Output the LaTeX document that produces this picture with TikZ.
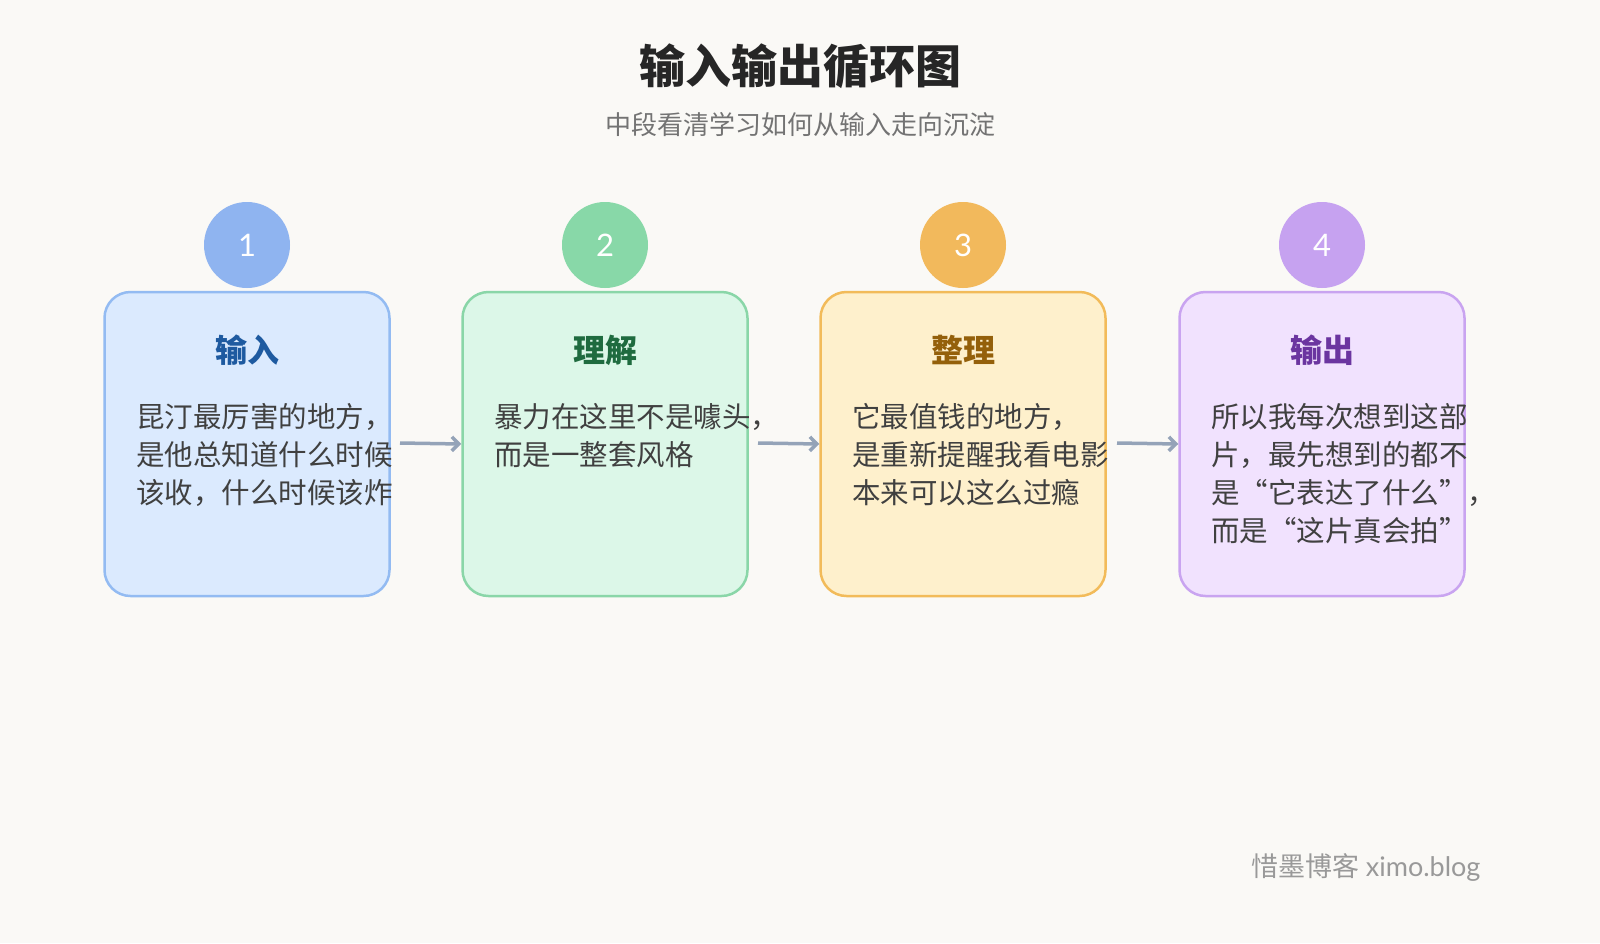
\documentclass[tikz,border=0pt]{standalone}
\usepackage{fontspec}
\usetikzlibrary{arrows.meta}
\setmainfont{Noto Sans CJK SC}
\newfontfamily\latinf{Lato}
\definecolor{bg}{HTML}{FAF9F6}
\definecolor{arr}{HTML}{94A3B8}
\definecolor{fa}{HTML}{DBEAFE}\definecolor{ba}{HTML}{93BBF2}\definecolor{ca}{HTML}{8FB4F0}\definecolor{ha}{HTML}{1E5AA0}
\definecolor{fb}{HTML}{DCF7E8}\definecolor{bb}{HTML}{8AD6A8}\definecolor{cb}{HTML}{88D8A8}\definecolor{hb}{HTML}{1F6B3F}
\definecolor{fc}{HTML}{FEF0CC}\definecolor{bc}{HTML}{F2BB5A}\definecolor{cc}{HTML}{F2B95C}\definecolor{hc}{HTML}{94600A}
\definecolor{fd}{HTML}{F1E2FE}\definecolor{bd}{HTML}{C9A4F0}\definecolor{cd}{HTML}{C6A2F0}\definecolor{hd}{HTML}{6B35A0}
\begin{document}
\begin{tikzpicture}[x=1pt,y=-1pt,
  card/.style={draw,line width=2.5pt,rounded corners=26pt,minimum width=285pt,minimum height=304pt,inner sep=0},
  num/.style={circle,minimum size=86pt,inner sep=0,text=white,font=\latinf\fontsize{31}{31}\selectfont},
  head/.style={font=\bfseries\fontsize{32}{32}\selectfont},
  body/.style={anchor=north west,align=left,inner sep=0,text=black!75,font=\fontsize{28.5}{38}\selectfont},
  link/.style={draw=arr,line width=3.5pt,-{Straight Barb[length=7pt,width=14pt]}}]
\fill[bg] (0,0) rectangle (1600,943);
\useasboundingbox (0,0) rectangle (1600,943);
\node[font=\bfseries\fontsize{46}{46}\selectfont,text=black!85] (title) at (800,66) {输入输出循环图};
\node[font=\fontsize{26}{26}\selectfont,text=black!55] (sub) at (800,125) {中段看清学习如何从输入走向沉淀};
\foreach \i/\x/\f/\b/\c/\h/\t in {1/247/fa/ba/ca/ha/输入,2/605/fb/bb/cb/hb/理解,3/963/fc/bc/cc/hc/整理,4/1322/fd/bd/cd/hd/输出}{
  \node[card,draw=\b,fill=\f] (card\i) at (\x,444) {};
  \node[num,fill=\c] (n\i) at (\x,245) {\i};
  \node[head,text=\h] (h\i) at (\x,350) {\t};
}
\draw[link] (400,443) -- (card2.west);
\draw[link] (758,443) -- (card3.west);
\draw[link] (1117,443) -- (card4.west);
\node[body] (t1) at (136,403) {昆汀最厉害的地方，\\是他总知道什么时候\\该收，什么时候该炸};
\node[body] (t2) at (494,403) {暴力在这里不是噱头，\\而是一整套风格};
\node[body] (t3) at (852,403) {它最值钱的地方，\\是重新提醒我看电影\\本来可以这么过瘾};
\node[body] (t4) at (1211,403) {所以我每次想到这部\\片，最先想到的都不\\是“它表达了什么”，\\而是“这片真会拍”};
\node[anchor=east,font=\fontsize{27}{27}\selectfont,text=black!40] (foot) at (1484,867) {惜墨博客 {\latinf ximo.blog}};
\end{tikzpicture}
\end{document}
